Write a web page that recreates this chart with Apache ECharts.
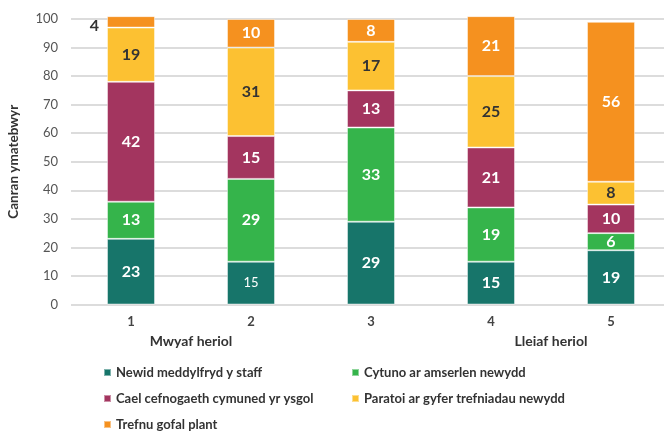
<!DOCTYPE html>
<html>
<head>
<meta charset="utf-8">
<script src="https://cdn.jsdelivr.net/npm/echarts@6/dist/echarts.min.js"></script>
<style>
  html, body { margin: 0; padding: 0; background: #fff; }
  #chart { width: 664px; height: 433px; }
</style>
</head>
<body>
<div id="chart"></div>
<script>
// categories (rank 1 = most challenging, 5 = least)
const categories = ['1', '2', '3', '4', '5']
const rankNotes = ['Mwyaf heriol', 'Lleiaf heriol']
const rankNotePos = [1.5, 4.5]

const seriesNames = [
  'Newid meddylfryd y staff',
  'Cytuno ar amserlen newydd',
  'Cael cefnogaeth cymuned yr ysgol',
  'Paratoi ar gyfer trefniadau newydd',
  'Trefnu gofal plant'
]
const newidMeddylfryd = [23, 15, 29, 15, 19]
const cytunoAmserlen = [13, 29, 33, 19, 6]
const caelCefnogaeth = [42, 15, 13, 21, 10]
const paratoiTrefniadau = [19, 31, 17, 25, 8]
const trefnuGofal = [4, 10, 8, 21, 56]

const values = [newidMeddylfryd, cytunoAmserlen, caelCefnogaeth, paratoiTrefniadau, trefnuGofal]
const colors = ['#17756a', '#35b44b', '#a3355f', '#fcc132', '#f5911f']
const labelColors = ['#fff', '#fff', '#fff', '#333', '#fff']

const font = 'Lato, "Source Sans Pro", "Noto Sans", sans-serif'

const chart = echarts.init(document.getElementById('chart'), null, { renderer: 'canvas' })

const series = values.map((vals, i) => ({
  name: seriesNames[i],
  type: 'bar',
  stack: 'total',
  barWidth: 48,
  clip: false,
  itemStyle: {
    color: colors[i],
    borderColor: 'rgba(255,255,255,0.45)',
    borderWidth: 1
  },
  label: {
    show: true,
    position: 'inside',
    color: labelColors[i],
    fontFamily: font,
    fontSize: 16,
    fontWeight: 'bold'
  },
  data: vals.map((v, j) => {
    // a couple of labels in the original are styled differently
    if (i === 4 && j === 0) {
      return { value: v, label: { position: 'left', color: '#333', distance: 8, offset: [0, 4] } }
    }
    if (i === 0 && j === 1) {
      return { value: v, label: { fontSize: 13, fontWeight: 'normal' } }
    }
    return v
  })
}))

const legendBase = {
  orient: 'vertical',
  icon: 'rect',
  itemWidth: 7,
  itemHeight: 7,
  itemGap: 13,
  padding: 0,
  height: 80,
  textStyle: { fontFamily: font, fontSize: 13, fontWeight: 'bold', color: '#333' }
}

const option = {
  animation: false,
  textStyle: { fontFamily: font },
  grid: { left: 71, width: 600, top: 19, height: 285.5, outerBoundsMode: 'none', containLabel: false },
  legend: [
    Object.assign({}, legendBase, { left: 103, top: 366, data: [seriesNames[0], seriesNames[2], seriesNames[4]] }),
    Object.assign({}, legendBase, { left: 351, top: 366, data: [seriesNames[1], seriesNames[3]] })
  ],
  xAxis: [
    {
      type: 'category',
      data: categories,
      axisLine: { show: false },
      axisTick: { show: false },
      axisLabel: { margin: 11, color: '#444', fontSize: 13, fontWeight: 'bold', fontFamily: font }
    },
    {
      type: 'value',
      position: 'bottom',
      min: 0.5,
      max: 5.5,
      axisLine: { show: false },
      axisTick: { show: false },
      splitLine: { show: false },
      axisLabel: {
        margin: 30,
        color: '#333',
        fontSize: 14,
        fontWeight: 'bold',
        fontFamily: font,
        customValues: rankNotePos,
        formatter: v => rankNotes[rankNotePos.indexOf(v)]
      }
    }
  ],
  yAxis: {
    type: 'value',
    min: 0,
    max: 100,
    interval: 10,
    name: 'Canran ymatebwyr',
    nameLocation: 'center',
    nameGap: 50,
    nameTextStyle: { color: '#333', fontSize: 13.5, fontWeight: 'bold', fontFamily: font },
    axisLine: { show: false },
    axisTick: { show: false },
    axisLabel: { margin: 13, color: '#555', fontSize: 13, fontFamily: font },
    splitLine: { lineStyle: { color: '#dcdcdc', width: 2 } }
  },
  series: series
}

chart.setOption(option)
</script>
</body>
</html>
